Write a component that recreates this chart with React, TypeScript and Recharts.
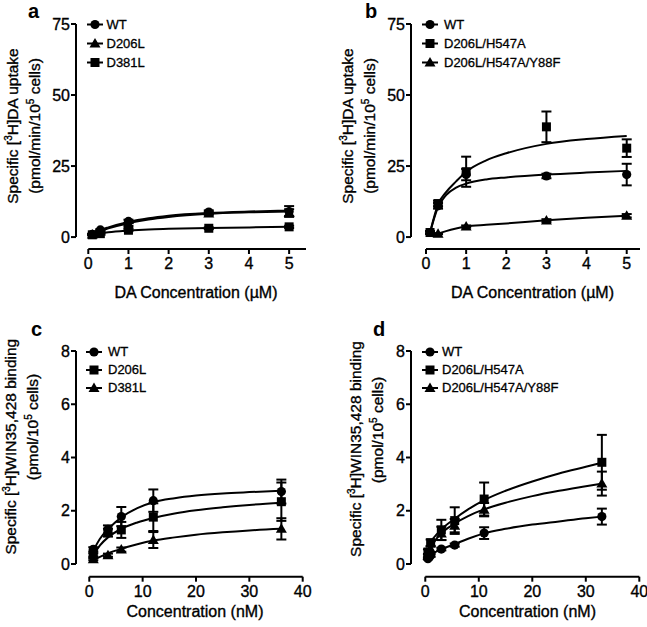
import {
  ComposedChart,
  ErrorBar,
  Label,
  Legend,
  Line,
  ReferenceLine,
  Scatter,
  XAxis,
  YAxis,
} from "recharts";

// ---- tick labels ----
const uptakeXTicks = [0, 1, 2, 3, 4, 5];
const uptakeYTicks = [0, 25, 50, 75];
const bindingXTicks = [0, 10, 20, 30, 40];
const bindingYTicks = [0, 2, 4, 6, 8];

// ---- panel a: [3H]DA uptake, WT / D206L / D381L ----
const aNames = ["WT", "D206L", "D381L"];
const aConc = [0.1, 0.3, 1, 3, 5];
const aWT = [1.0, 2.5, 5.5, 8.8, 9.0];
const aWTsem = [0.2, 0.3, 0.6, 0.6, 1.9];
const aD206L = [0.9, 2.0, 4.4, 8.3, 8.6];
const aD206Lsem = [0.2, 0.3, 0.5, 0.5, 1.2];
const aD381L = [0.8, 1.2, 2.4, 3.1, 3.6];
const aD381Lsem = [0.2, 0.2, 0.3, 0.3, 0.4];
const aFitConc = [0.1, 0.3, 0.5, 1, 1.5, 2, 3, 4, 5];
const aWTfit = [1.0, 2.4, 3.4, 5.3, 6.6, 7.5, 8.5, 9.0, 9.3];
const aD206Lfit = [0.9, 2.1, 3.1, 4.9, 6.2, 7.1, 8.2, 8.7, 9.0];
const aD381Lfit = [0.8, 1.3, 1.7, 2.3, 2.7, 2.9, 3.2, 3.4, 3.6];

// ---- panel b: [3H]DA uptake, WT / D206L/H547A / D206L/H547A/Y88F ----
const bNames = ["WT", "D206L/H547A", "D206L/H547A/Y88F"];
const bConc = [0.1, 0.3, 1, 3, 5];
const bWT = [1.6, 11.0, 22.0, 21.5, 22.0];
const bWTsem = [0.4, 1.0, 2.0, 0.8, 3.8];
const bH547A = [1.6, 11.8, 23.0, 38.8, 31.3];
const bH547Asem = [0.5, 1.0, 5.3, 5.4, 3.1];
const bY88FConc = [0.3, 1, 3, 5];
const bY88F = [1.2, 3.7, 5.8, 7.5];
const bY88Fsem = [0.2, 0.4, 0.5, 0.6];
const bFitConc = [0.1, 0.2, 0.3, 0.5, 0.75, 1, 1.5, 2, 3, 4, 5];
const bWTfit = [1.5, 6.5, 10.5, 14.8, 17.4, 18.8, 20.3, 21.0, 22.0, 22.7, 23.3];
const bH547Afit = [1.5, 7.0, 11.5, 15.8, 19.6, 23.0, 27.0, 29.5, 32.8, 34.5, 35.6];
const bY88FfitConc = [0.3, 0.5, 0.75, 1, 1.5, 2, 3, 4, 5];
const bY88Ffit = [1.2, 2.1, 3.0, 3.7, 4.3, 4.8, 5.9, 6.8, 7.5];

// ---- panel c: [3H]WIN35,428 binding, WT / D206L / D381L ----
const cNames = ["WT", "D206L", "D381L"];
const cConc = [0.75, 3.5, 6, 12, 36];
const cWT = [0.55, 1.3, 1.78, 2.38, 2.72];
const cWTsem = [0.08, 0.15, 0.36, 0.42, 0.45];
const cD206L = [0.34, 1.18, 1.28, 1.76, 2.34];
const cD206Lsem = [0.06, 0.15, 0.3, 0.52, 0.72];
const cD381L = [0.18, 0.33, 0.54, 0.9, 1.32];
const cD381Lsem = [0.04, 0.06, 0.08, 0.3, 0.4];
const cFitConc = [0.75, 2, 3.5, 6, 9, 12, 16, 20, 25, 30, 36];
const cWTfit = [0.5, 0.95, 1.3, 1.75, 2.1, 2.32, 2.47, 2.57, 2.65, 2.7, 2.75];
const cD206Lfit = [0.33, 0.7, 1.0, 1.32, 1.56, 1.73, 1.9, 2.02, 2.13, 2.22, 2.3];
const cD381Lfit = [0.15, 0.27, 0.4, 0.57, 0.74, 0.88, 1.0, 1.1, 1.19, 1.26, 1.32];

// ---- panel d: [3H]WIN35,428 binding, WT / D206L/H547A / D206L/H547A/Y88F ----
const dNames = ["WT", "D206L/H547A", "D206L/H547A/Y88F"];
const dConc = [0.5, 1, 3, 5.5, 11, 33];
const dWT = [0.2, 0.32, 0.56, 0.71, 1.16, 1.78];
const dWTsem = [0.03, 0.05, 0.05, 0.06, 0.22, 0.3];
const dH547A = [0.45, 0.8, 1.28, 1.63, 2.44, 3.82];
const dH547Asem = [0.1, 0.12, 0.38, 0.5, 0.62, 1.03];
const dY88F = [0.32, 0.55, 1.15, 1.44, 2.04, 3.02];
const dY88Fsem = [0.06, 0.1, 0.25, 0.25, 0.25, 0.45];
const dFitConc = [0.5, 1, 2, 3, 5.5, 8, 11, 15, 20, 25, 30, 33];
const dWTfit = [0.2, 0.32, 0.46, 0.55, 0.75, 0.95, 1.15, 1.32, 1.48, 1.6, 1.72, 1.78];
const dH547Afit = [0.45, 0.8, 1.08, 1.3, 1.7, 2.05, 2.4, 2.75, 3.1, 3.4, 3.65, 3.8];
const dY88Ffit = [0.33, 0.58, 0.92, 1.15, 1.52, 1.8, 2.05, 2.3, 2.55, 2.75, 2.92, 3.02];

const FONT = '"Liberation Sans", Arial, Helvetica, sans-serif';
// the scanned figure has slightly heavy type; a hairline stroke thickens the glyphs
const INK = { fill: "#000", stroke: "#000", strokeWidth: 0.35 };

type Kind = "circle" | "square" | "triangle";
type Pt = { x: number; y: number; sem?: number };
type Series = { name: string; kind: Kind; points: Pt[]; fit: Pt[] };
type Seg = { t: string; sup?: boolean };

const toPoints = (xs: number[], ys: number[], sem: number[]): Pt[] =>
  xs.map((x, i) => ({ x, y: ys[i], sem: sem[i] }));
const toCurve = (xs: number[], ys: number[]): Pt[] => xs.map((x, i) => ({ x, y: ys[i] }));

const uptakeTitle: Seg[][] = [
  [{ t: "Specific [" }, { t: "3", sup: true }, { t: "H]DA uptake" }],
  [{ t: "(pmol/min/10" }, { t: "5", sup: true }, { t: " cells)" }],
];
const bindingTitle: Seg[][] = [
  [{ t: "Specific [" }, { t: "3", sup: true }, { t: "H]WIN35,428 binding" }],
  [{ t: "(pmol/10" }, { t: "5", sup: true }, { t: " cells)" }],
];

function Marker({ kind, cx, cy }: { kind: Kind; cx: number; cy: number }) {
  if (cx == null || cy == null) return null;
  if (kind === "circle") return <circle cx={cx} cy={cy} r={4.6} fill="#000" />;
  if (kind === "square") return <rect x={cx - 4.5} y={cy - 4.5} width={9} height={9} fill="#000" />;
  return (
    <path d={`M${cx},${cy - 5.5} L${cx + 5.5},${cy + 4} L${cx - 5.5},${cy + 4} Z`} fill="#000" />
  );
}

function LegendBox({ series, rowH, gap }: { series: Series[]; rowH: number; gap: number }) {
  return (
    <div style={{ fontSize: 13, color: "#000", fontFamily: FONT, WebkitTextStroke: "0.3px #000" }}>
      {series.map((s) => (
        <div key={s.name} style={{ display: "flex", alignItems: "center", height: rowH }}>
          <svg width={16} height={rowH} style={{ display: "block" }}>
            <line x1={0} x2={16} y1={rowH / 2} y2={rowH / 2} stroke="#000" strokeWidth={2} />
            <Marker kind={s.kind} cx={8} cy={rowH / 2} />
          </svg>
          <span style={{ marginLeft: gap, whiteSpace: "nowrap" }}>{s.name}</span>
        </div>
      ))}
    </div>
  );
}

type PanelCfg = {
  letter: string;
  letterPos: [number, number];
  left: number;
  top: number;
  width: number;
  height: number;
  margin: { top: number; right: number; bottom: number; left: number };
  yAxisWidth: number;
  xDomain: [number, number];
  yDomain: [number, number];
  xTicks: number[];
  yTicks: number[];
  xTitle: string;
  xTitlePos: [number, number];
  yTitle: Seg[][];
  yTitlePos: [number, number][];
  legendPos: [number, number];
  legendRow: number;
  legendGap: number;
  series: Series[];
};

function Panel({ cfg }: { cfg: PanelCfg }) {
  const [x0, x1] = cfg.xDomain;
  const [y0, y1] = cfg.yDomain;
  const renderXTitle = () => (
    <text x={cfg.xTitlePos[0]} y={cfg.xTitlePos[1]} textAnchor="middle" fontSize={16} {...INK}>
      {cfg.xTitle}
    </text>
  );
  const renderYTitle = () => (
    <g>
      <text x={cfg.letterPos[0]} y={cfg.letterPos[1]} fontSize={20} fontWeight="bold" fill="#000">
        {cfg.letter}
      </text>
      {cfg.yTitle.map((line, i) => {
        const [bx, cy] = cfg.yTitlePos[i];
        return (
          <text
            key={i}
            x={bx}
            y={cy}
            transform={`rotate(-90 ${bx} ${cy})`}
            textAnchor="middle"
            fontSize={15.5}
            {...INK}
          >
            {line.map((seg, j) =>
              seg.sup ? (
                <tspan key={j} dy={-6} fontSize={10}>
                  {seg.t}
                </tspan>
              ) : (
                <tspan key={j} dy={j > 0 && line[j - 1].sup ? 6 : 0}>
                  {seg.t}
                </tspan>
              )
            )}
          </text>
        );
      })}
    </g>
  );

  return (
    <div style={{ position: "absolute", left: cfg.left, top: cfg.top }}>
      <ComposedChart width={cfg.width} height={cfg.height} margin={cfg.margin}>
        <XAxis
          type="number"
          dataKey="x"
          domain={cfg.xDomain}
          ticks={cfg.xTicks}
          interval={0}
          allowDataOverflow
          axisLine={false}
          tickLine={{ stroke: "#000", strokeWidth: 2 }}
          tickSize={5}
          tickMargin={4}
          tick={{ ...INK, fontSize: 16 }}
          height={30}
        >
          <Label content={renderXTitle} />
        </XAxis>
        <YAxis
          type="number"
          dataKey="y"
          domain={cfg.yDomain}
          ticks={cfg.yTicks}
          interval={0}
          allowDataOverflow
          axisLine={false}
          tickLine={{ stroke: "#000", strokeWidth: 2 }}
          tickSize={5}
          tickMargin={1}
          tick={{ ...INK, fontSize: 16 }}
          width={cfg.yAxisWidth}
        >
          <Label content={renderYTitle} />
        </YAxis>
        <ReferenceLine
          segment={[
            { x: 0, y: y0 },
            { x: x1, y: y0 },
          ]}
          stroke="#000"
          strokeWidth={2}
          ifOverflow="visible"
        />
        <ReferenceLine
          segment={[
            { x: x0, y: 0 },
            { x: x0, y: y1 },
          ]}
          stroke="#000"
          strokeWidth={2}
          ifOverflow="visible"
        />
        {cfg.series.map((s) => (
          <Line
            key={`fit-${s.name}`}
            data={s.fit}
            dataKey="y"
            type="monotone"
            stroke="#000"
            strokeWidth={2}
            dot={false}
            activeDot={false}
            isAnimationActive={false}
          />
        ))}
        {cfg.series.map((s) => (
          <Scatter
            key={`pts-${s.name}`}
            name={s.name}
            data={s.points}
            fill="#000"
            shape={(p: any) => <Marker kind={s.kind} cx={p.cx} cy={p.cy} />}
            isAnimationActive={false}
          >
            <ErrorBar dataKey="sem" direction="y" width={5} stroke="#000" strokeWidth={2} />
          </Scatter>
        ))}
        <Legend
          layout="horizontal"
          verticalAlign="middle"
          align="center"
          wrapperStyle={{ left: cfg.legendPos[0], top: cfg.legendPos[1], width: "auto", height: "auto" }}
          content={() => <LegendBox series={cfg.series} rowH={cfg.legendRow} gap={cfg.legendGap} />}
        />
      </ComposedChart>
    </div>
  );
}

const panelA: PanelCfg = {
  letter: "a",
  letterPos: [28, 18],
  left: 0,
  top: 0,
  width: 323,
  height: 310,
  margin: { top: 24, right: 17, bottom: 31, left: 0 },
  yAxisWidth: 76,
  xDomain: [-0.306, 5.42],
  yDomain: [-4.2, 75],
  xTicks: uptakeXTicks,
  yTicks: uptakeYTicks,
  xTitle: "DA Concentration (\u00b5M)",
  xTitlePos: [196, 298],
  yTitle: uptakeTitle,
  yTitlePos: [
    [18, 126],
    [39.5, 126],
  ],
  legendPos: [86.5, 14.5],
  legendRow: 19,
  legendGap: 4,
  series: [
    { name: aNames[0], kind: "circle", points: toPoints(aConc, aWT, aWTsem), fit: toCurve(aFitConc, aWTfit) },
    { name: aNames[1], kind: "triangle", points: toPoints(aConc, aD206L, aD206Lsem), fit: toCurve(aFitConc, aD206Lfit) },
    { name: aNames[2], kind: "square", points: toPoints(aConc, aD381L, aD381Lsem), fit: toCurve(aFitConc, aD381Lfit) },
  ],
};

const panelB: PanelCfg = {
  letter: "b",
  letterPos: [42, 17.5],
  left: 323,
  top: 0,
  width: 324,
  height: 310,
  margin: { top: 24, right: 7, bottom: 31, left: 0 },
  yAxisWidth: 88,
  xDomain: [-0.374, 5.331],
  yDomain: [-4.2, 75],
  xTicks: uptakeXTicks,
  yTicks: uptakeYTicks,
  xTitle: "DA Concentration (\u00b5M)",
  xTitlePos: [209.5, 298],
  yTitle: uptakeTitle,
  yTitlePos: [
    [30, 126],
    [51.6, 126],
  ],
  legendPos: [99, 14.5],
  legendRow: 19,
  legendGap: 6,
  series: [
    { name: bNames[0], kind: "circle", points: toPoints(bConc, bWT, bWTsem), fit: toCurve(bFitConc, bWTfit) },
    { name: bNames[1], kind: "square", points: toPoints(bConc, bH547A, bH547Asem), fit: toCurve(bFitConc, bH547Afit) },
    { name: bNames[2], kind: "triangle", points: toPoints(bY88FConc, bY88F, bY88Fsem), fit: toCurve(bY88FfitConc, bY88Ffit) },
  ],
};

const panelC: PanelCfg = {
  letter: "c",
  letterPos: [31, 26],
  left: 0,
  top: 310,
  width: 323,
  height: 317,
  margin: { top: 41, right: 20.3, bottom: 20.3, left: 0 },
  yAxisWidth: 76,
  xDomain: [-2.49, 40],
  yDomain: [-0.477, 8],
  xTicks: bindingXTicks,
  yTicks: bindingYTicks,
  xTitle: "Concentration (nM)",
  xTitlePos: [195, 307],
  yTitle: bindingTitle,
  yTitlePos: [
    [16, 136.7],
    [38.4, 117],
  ],
  legendPos: [86, 32.7],
  legendRow: 18,
  legendGap: 6,
  series: [
    { name: cNames[0], kind: "circle", points: toPoints(cConc, cWT, cWTsem), fit: toCurve(cFitConc, cWTfit) },
    { name: cNames[1], kind: "square", points: toPoints(cConc, cD206L, cD206Lsem), fit: toCurve(cFitConc, cD206Lfit) },
    { name: cNames[2], kind: "triangle", points: toPoints(cConc, cD381L, cD381Lsem), fit: toCurve(cFitConc, cD381Lfit) },
  ],
};

const panelD: PanelCfg = {
  letter: "d",
  letterPos: [50, 26],
  left: 323,
  top: 310,
  width: 324,
  height: 317,
  margin: { top: 41, right: 7.7, bottom: 20.3, left: 0 },
  yAxisWidth: 88,
  xDomain: [-2.67, 40],
  yDomain: [-0.477, 8],
  xTicks: bindingXTicks,
  yTicks: bindingYTicks,
  xTitle: "Concentration (nM)",
  xTitlePos: [204.5, 307],
  yTitle: bindingTitle,
  yTitlePos: [
    [38.2, 139],
    [60, 120],
  ],
  legendPos: [99, 32.7],
  legendRow: 18,
  legendGap: 4,
  series: [
    { name: dNames[0], kind: "circle", points: toPoints(dConc, dWT, dWTsem), fit: toCurve(dFitConc, dWTfit) },
    { name: dNames[1], kind: "square", points: toPoints(dConc, dH547A, dH547Asem), fit: toCurve(dFitConc, dH547Afit) },
    { name: dNames[2], kind: "triangle", points: toPoints(dConc, dY88F, dY88Fsem), fit: toCurve(dFitConc, dY88Ffit) },
  ],
};

export default function App() {
  return (
    <div
      style={{
        position: "absolute",
        left: 0,
        top: 0,
        width: 647,
        height: 627,
        background: "#fff",
        fontFamily: FONT,
      }}
    >
      <Panel cfg={panelA} />
      <Panel cfg={panelB} />
      <Panel cfg={panelC} />
      <Panel cfg={panelD} />
    </div>
  );
}
